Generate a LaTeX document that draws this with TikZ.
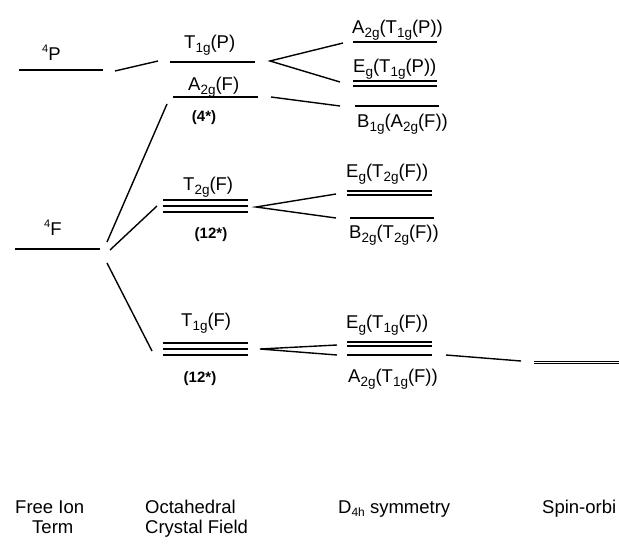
\documentclass[tikz,border=0pt]{standalone}
\usepackage{fontspec}
\setmainfont{Liberation Sans}
% subscript and superscript helpers for term symbols
\newcommand{\ix}[1]{\raisebox{-0.27em}{\fontsize{13.5}{13.5}\selectfont #1}}
\newcommand{\sx}[1]{\raisebox{0.42em}{\fontsize{11}{11}\selectfont #1}}
\begin{document}
\begin{tikzpicture}[x=1pt,y=-1pt,
  lvl/.style={line width=1.7pt},
  thin lvl/.style={line width=1.3pt},
  conn/.style={line width=1.4pt},
  lbl/.style={font=\fontsize{18.5}{18.5}\selectfont, inner sep=0pt, anchor=base west},
  deg/.style={font=\bfseries\fontsize{15}{15}\selectfont, inner sep=0pt, anchor=center}]
\useasboundingbox (0,0) rectangle (619,546);

% ---- free ion terms
\draw[lvl] (19,70) -- (103,70);
\draw[lvl] (15,249) -- (100,249);
\node[lbl] (tP) at (42,60) {\sx{4}P};
\node[lbl] (tF) at (44,235) {\sx{4}F};

% ---- octahedral field levels
\draw[lvl] (170,62) -- (255,62);
\draw[lvl] (173,97) -- (258,97);
\foreach \y in {200,206,212} \draw[thin lvl] (163,\y) -- (248,\y);
\foreach \y in {343,349,355} \draw[thin lvl] (163,\y) -- (248,\y);
\node[lbl] (oT1P) at (184,48) {T\ix{1g}(P)};
\node[lbl] (oA2F) at (188,90) {A\ix{2g}(F)};
\node[deg] (d4) at (204,118) {(4*)};
\node[lbl] (oT2F) at (183,190) {T\ix{2g}(F)};
\node[deg] (d12a) at (211,235) {(12*)};
\node[lbl] (oT1F) at (181,326) {T\ix{1g}(F)};
\node[deg] (d12b) at (200,379) {(12*)};

% ---- D4h levels
\draw[lvl] (353,42) -- (437,42);
\draw[thin lvl] (353,81) -- (437,81);
\draw[thin lvl] (353,86) -- (437,86);
\draw[lvl] (355,106) -- (439,106);
\draw[thin lvl] (347,191) -- (432,191);
\draw[thin lvl] (347,195) -- (432,195);
\draw[lvl] (350,218) -- (434,218);
\draw[thin lvl] (347,342) -- (432,342);
\draw[thin lvl] (347,346) -- (432,346);
\draw[lvl] (347,355) -- (432,355);
\node[lbl] (dA2P) at (352,33) {A\ix{2g}(T\ix{1g}(P))};
\node[lbl] (dEP) at (353,72) {E\ix{g}(T\ix{1g}(P))};
\node[lbl] (dB1) at (357,127) {B\ix{1g}(A\ix{2g}(F))};
\node[lbl] (dE2) at (346,177) {E\ix{g}(T\ix{2g}(F))};
\node[lbl] (dB2) at (349,238) {B\ix{2g}(T\ix{2g}(F))};
\node[lbl] (dE1) at (346,328) {E\ix{g}(T\ix{1g}(F))};
\node[lbl] (dA1) at (348,382) {A\ix{2g}(T\ix{1g}(F))};

% ---- spin-orbit level
\draw[thin lvl] (534,361.5) -- (619,361.5);
\draw[thin lvl] (534,363.5) -- (619,363.5);

% ---- correlation lines
\coordinate (p1) at (115,71);   \coordinate (p2) at (158,61);
\coordinate (f1) at (107,242);  \coordinate (f2) at (167,104);
\coordinate (f3) at (110,250);  \coordinate (f4) at (157,206);
\coordinate (f5) at (107,263);  \coordinate (f6) at (152,351);
\coordinate (v1) at (270,61);   \coordinate (v1a) at (343,43);  \coordinate (v1b) at (340,82);
\coordinate (a1) at (271,97);   \coordinate (a2) at (340,106);
\coordinate (v2) at (256,207);  \coordinate (v2a) at (336,194); \coordinate (v2b) at (336,218);
\coordinate (v3) at (260,349);  \coordinate (v3a) at (337,345); \coordinate (v3b) at (337,355);
\coordinate (s1) at (446,355);  \coordinate (s2) at (521,361);
\draw[conn] (p1) -- (p2);
\draw[conn] (f1) -- (f2);
\draw[conn] (f3) -- (f4);
\draw[conn] (f5) -- (f6);
\draw[conn] (v1a) -- (v1) -- (v1b);
\draw[conn] (a1) -- (a2);
\draw[conn] (v2a) -- (v2) -- (v2b);
\draw[conn] (v3a) -- (v3) -- (v3b);
\draw[conn] (s1) -- (s2);

% ---- column titles
\node[lbl] (c1a) at (15,513) {Free Ion};
\node[lbl] (c1b) at (32,533) {Term};
\node[lbl] (c2a) at (145,513) {Octahedral};
\node[lbl] (c2b) at (145,533) {Crystal Field};
\node[lbl] (c3) at (338,513) {D{\fontsize{12}{12}\selectfont\raisebox{-0.25em}{4h}} symmetry};
\node[lbl] (c4) at (542,513) {Spin-orbi};
\end{tikzpicture}
\end{document}
